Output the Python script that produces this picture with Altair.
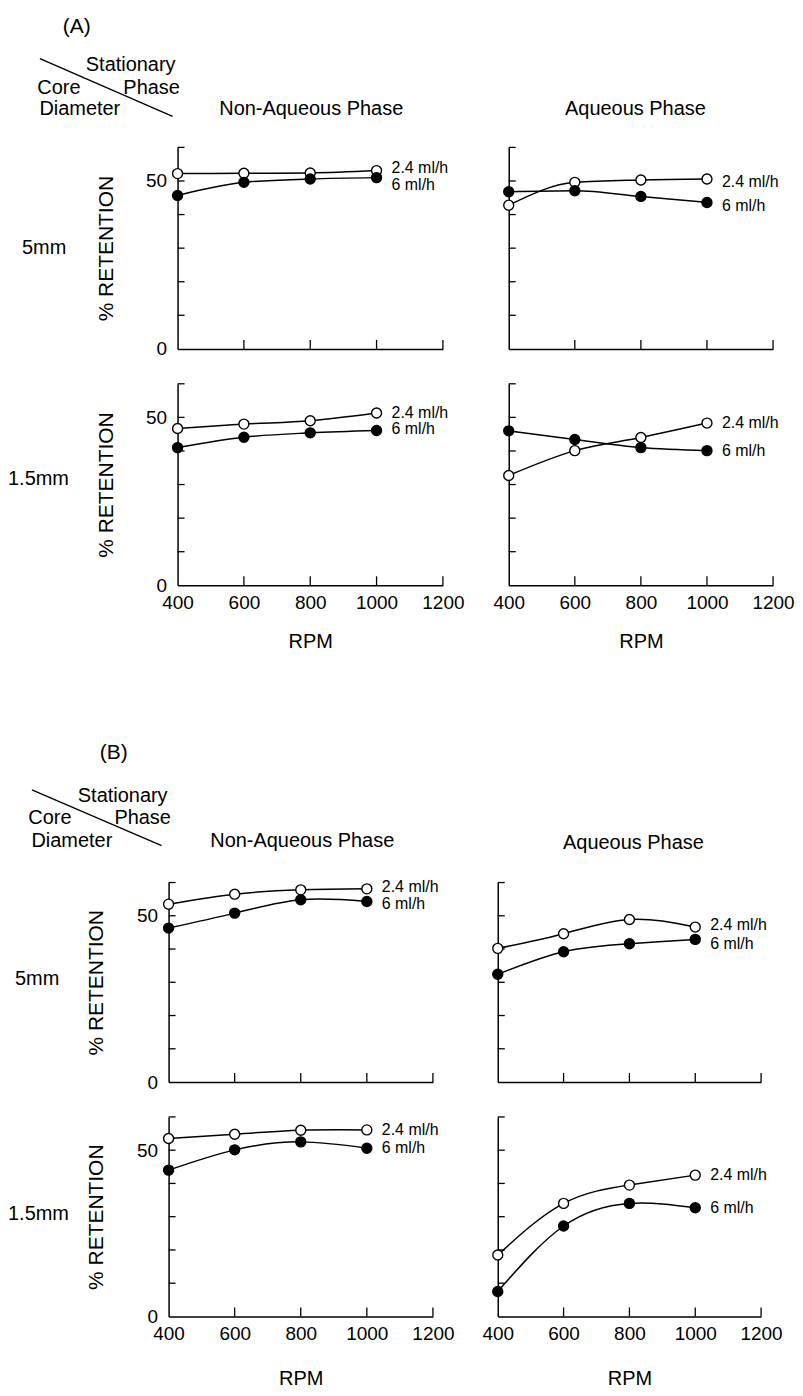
import altair as alt
import pandas as pd

# ---------------- data ----------------
rpm = [400, 600, 800, 1000]
flows = ["2.4 ml/h", "6 ml/h"]
x_tick_values = [400, 600, 800, 1000, 1200]
x_tick_marks = [600, 800, 1000, 1200]
y_label_values = [0, 50]
y_tick_marks = [10, 20, 30, 40, 50, 60]

phases = ["Non-Aqueous Phase", "Aqueous Phase"]
cores = ["5mm", "1.5mm"]
sections = ["(A)", "(B)"]
corner_words = ["Stationary", "Core", "Phase", "Diameter"]
y_title = "% RETENTION"
x_title = "RPM"

# (A)
a_nonaq_5_24 = [52.2, 52.3, 52.4, 53.1]
a_nonaq_5_6 = [45.7, 49.6, 50.6, 51.0]
a_aq_5_24 = [42.8, 49.6, 50.3, 50.6]
a_aq_5_6 = [46.8, 47.1, 45.4, 43.6]
a_nonaq_15_24 = [46.7, 48.0, 49.0, 51.3]
a_nonaq_15_6 = [41.0, 44.1, 45.4, 46.1]
a_aq_15_24 = [32.7, 40.1, 44.0, 48.3]
a_aq_15_6 = [46.0, 43.4, 41.0, 40.1]
# (B)
b_nonaq_5_24 = [53.5, 56.5, 57.8, 58.1]
b_nonaq_5_6 = [46.3, 50.8, 54.8, 54.3]
b_aq_5_24 = [40.2, 44.6, 48.9, 46.6]
b_aq_5_6 = [32.4, 39.2, 41.6, 42.9]
b_nonaq_15_24 = [53.5, 54.8, 56.0, 56.1]
b_nonaq_15_6 = [44.0, 50.1, 52.5, 50.6]
b_aq_15_24 = [18.5, 34.0, 39.5, 42.5]
b_aq_15_6 = [7.5, 27.2, 34.0, 32.7]

FONT = "Liberation Sans"
INK = "black"
dummy = pd.DataFrame({"k": [0]})


def text_layer(t, x, y, size=20, align="center", angle=0):
    return alt.Chart(dummy).mark_text(
        font=FONT, fontSize=size, align=align, baseline="middle", color=INK, angle=angle
    ).encode(x=alt.value(x), y=alt.value(y), text=alt.value(t))


def text_cell(w, h, items, diag=None):
    layers = [text_layer(*it) for it in items]
    if diag is not None:
        x1, y1, x2, y2 = diag
        layers.append(
            alt.Chart(dummy).mark_rule(color=INK, strokeWidth=1.4).encode(
                x=alt.value(x1), y=alt.value(y1), x2=alt.value(x2), y2=alt.value(y2)
            )
        )
    return alt.layer(*layers).properties(width=w, height=h)


def panel(v24, v6, w, h, interp, xlabels, ylabels, nud, ytx, xty):
    df = pd.DataFrame({
        "rpm": rpm + rpm,
        "ret": v24 + v6,
        "flow": [flows[0]] * 4 + [flows[1]] * 4,
    })
    xs = alt.Scale(domain=[400, 1200], nice=False, zero=False)
    ys = alt.Scale(domain=[0, 60], nice=False, zero=False)
    xax = alt.Axis(
        values=x_tick_values, format="d", ticks=False, tickSize=0, grid=False, labels=xlabels,
        labelFlush=False, labelOverlap=False, labelPadding=8, labelFontSize=19,
        labelFont=FONT, labelColor=INK,
        title=x_title if xlabels else None, titleY=xty, titleBaseline="middle",
        titleFontSize=20, titleFont=FONT, titleColor=INK, titleFontWeight="normal",
        domainColor=INK, domainWidth=1.5,
    )
    yax = alt.Axis(
        values=y_label_values, format="d", ticks=False, tickSize=0, grid=False, labels=ylabels,
        labelFlush=False, labelOverlap=False, labelPadding=11, labelFontSize=19,
        labelFont=FONT, labelColor=INK,
        title=y_title if ylabels else None, titleX=ytx, titleY=h / 2, titleAngle=270,
        titleAlign="center", titleBaseline="middle",
        titleFontSize=21, titleFont=FONT, titleColor=INK, titleFontWeight="normal",
        domainColor=INK, domainWidth=1.5,
    )
    X = alt.X("rpm:Q", scale=xs, axis=xax)
    Y = alt.Y("ret:Q", scale=ys, axis=yax)

    ytick = alt.Chart(pd.DataFrame({"ret": y_tick_marks})).mark_rule(
        color=INK, strokeWidth=1.3).encode(y=Y, x=alt.value(0), x2=alt.value(7))
    xtick = alt.Chart(pd.DataFrame({"rpm": x_tick_marks})).mark_rule(
        color=INK, strokeWidth=1.3).encode(x=X, y=alt.value(h), y2=alt.value(h - 9))
    lines = alt.Chart(df).mark_line(
        interpolate=interp, color=INK, strokeWidth=1.5).encode(x=X, y=Y, detail="flow:N")
    pts = alt.Chart(df).mark_point(
        shape="circle", filled=True, size=100, stroke=INK, strokeWidth=1.4, opacity=1
    ).encode(
        x=X, y=Y,
        fill=alt.Fill("flow:N", scale=alt.Scale(domain=flows, range=["white", "black"]), legend=None),
    )
    labs = []
    for f, vals, dy in ((flows[0], v24, nud[0]), (flows[1], v6, nud[1])):
        ldf = pd.DataFrame({"rpm": [rpm[-1]], "ret": [vals[-1]], "lab": [f]})
        labs.append(
            alt.Chart(ldf).mark_text(
                font=FONT, fontSize=16, align="left", baseline="middle", dx=15, dy=dy, color=INK
            ).encode(x=X, y=Y, text="lab:N")
        )
    return alt.layer(ytick, xtick, lines, pts, *labs).properties(width=w, height=h)


# ---------------- section A ----------------
A_W0, A_W1, A_W2, A_H = 104, 266, 265, 202
secA_cells = [
    text_cell(A_W0, 103, [
        (sections[0], 69, 17, 21),
        (corner_words[0], 123, 55), (corner_words[1], 51, 78),
        (corner_words[2], 144, 78), (corner_words[3], 72, 100),
    ], diag=(32, 49, 165, 107)),
    text_cell(A_W1, 103, [(phases[0], 134, 100)]),
    text_cell(A_W2, 103, [(phases[1], 127, 100)]),
    text_cell(A_W0, A_H, [(cores[0], 14, 101, 20, "left")]),
    panel(a_nonaq_5_24, a_nonaq_5_6, A_W1, A_H, "monotone", False, True, (-3, 7), -71, 56),
    panel(a_aq_5_24, a_aq_5_6, A_W2, A_H, "monotone", False, False, (3, 4), -71, 56),
    text_cell(A_W0, A_H, [(cores[1], 0, 95, 20, "left")]),
    panel(a_nonaq_15_24, a_nonaq_15_6, A_W1, A_H, "monotone", True, True, (0, -1), -71, 56),
    panel(a_aq_15_24, a_aq_15_6, A_W2, A_H, "monotone", True, False, (0, 0), -71, 56),
    text_cell(1, 40, [("", 0, 0)]),
]
secA = alt.concat(*secA_cells, columns=3, spacing={"row": 35, "column": 66}, bounds="flush")

# ---------------- section B ----------------
B_W0, B_W1, B_W2, B_H = 96, 265, 264, 200
secB_cells = [
    text_cell(B_W0, 188, [
        (sections[1], 106, 93, 21),
        (corner_words[0], 115, 136), (corner_words[1], 42, 158),
        (corner_words[2], 135, 158), (corner_words[3], 64, 181),
    ], diag=(24, 130, 154, 186)),
    text_cell(B_W1, 188, [(phases[0], 134, 181)]),
    text_cell(B_W2, 188, [(phases[1], 136, 183)]),
    text_cell(B_W0, B_H, [(cores[0], 7, 97, 20, "left")]),
    panel(b_nonaq_5_24, b_nonaq_5_6, B_W1, B_H, "natural", False, True, (-2, 3), -72, 62),
    panel(b_aq_5_24, b_aq_5_6, B_W2, B_H, "natural", False, False, (-2, 5), -72, 62),
    text_cell(B_W0, B_H, [(cores[1], 0, 97, 20, "left")]),
    panel(b_nonaq_15_24, b_nonaq_15_6, B_W1, B_H, "natural", True, True, (0, 0), -72, 62),
    panel(b_aq_15_24, b_aq_15_6, B_W2, B_H, "natural", True, False, (0, 0), -72, 62),
]
secB = alt.concat(*secB_cells, columns=3, spacing={"row": 35, "column": 65}, bounds="flush")

chart = (
    alt.vconcat(secA, secB, spacing=0)
    .properties(padding=0, background="white")
    .configure_view(strokeWidth=0)
)

chart.save("out.html", embed_options={"renderer": "svg", "actions": False})
